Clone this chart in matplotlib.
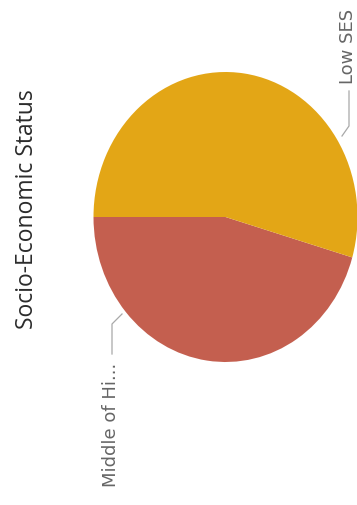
import matplotlib
matplotlib.use("Agg")
import matplotlib.pyplot as plt
from matplotlib.lines import Line2D

# data
categories = ["Middle of Hi...", "Low SES"]
shares = [45.5, 54.5]
colors = ["#C45F4F", "#E3A616"]

W, H = 357, 506
fig = plt.figure(figsize=(W / 100, H / 100), dpi=100)
fig.patch.set_facecolor("white")


def px(x, y):
    # pixel position (from top-left) -> figure fraction
    return x / W, 1 - y / H


# pie axes, slightly squashed like the reference
cx, cy, rx, ry = 225.5, 218, 132, 145
ax = fig.add_axes([(cx - rx) / W, 1 - (cy + ry) / H, 2 * rx / W, 2 * ry / H])
ax.pie(shares, colors=colors, startangle=180, counterclock=True,
       radius=1, frame=False, wedgeprops=dict(linewidth=0))
ax.set_xlim(-1, 1)
ax.set_ylim(-1, 1)
ax.set_aspect("auto")
ax.axis("off")

# title, rotated like the reference
tx, ty = px(27, 209)
fig.text(tx, ty, "Socio-Economic Status", rotation=90, ha="center", va="center",
         fontsize=16.5, color="#2B2B2B", family=["Open Sans", "DejaVu Sans"])

# labels with leader lines
labels = [
    (categories[1], (348, 46), [(342, 137), (349, 127), (349, 92)]),
    (categories[0], (111, 425), [(122, 315), (112, 325), (112, 355)]),
]
for text, (lx, ly), pts in labels:
    x, y = px(lx, ly)
    fig.text(x, y, text, rotation=90, ha="center", va="center",
             fontsize=13, color="#666666", family=["DejaVu Sans"])
    xs = [px(a, b)[0] for a, b in pts]
    ys = [px(a, b)[1] for a, b in pts]
    fig.add_artist(Line2D(xs, ys, transform=fig.transFigure,
                          color="#A8A8A8", linewidth=0.9))

fig.savefig("out.png", dpi=100)
